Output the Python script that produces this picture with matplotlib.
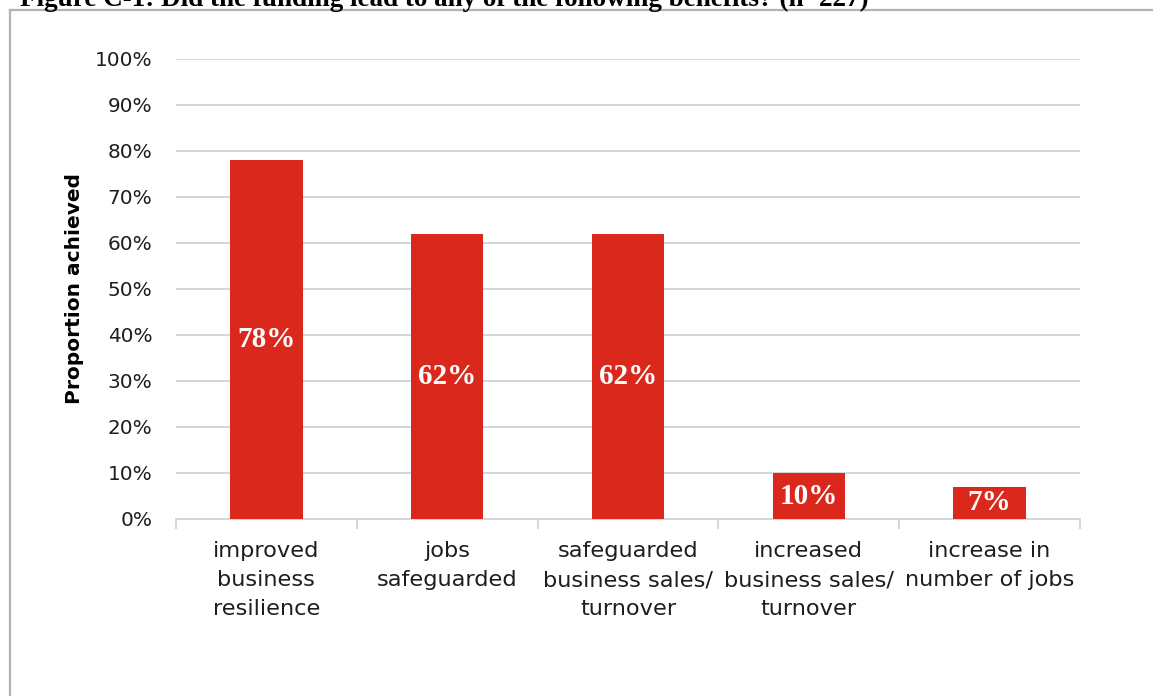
import matplotlib
matplotlib.use('Agg')
import matplotlib.pyplot as plt
from matplotlib.lines import Line2D

# Chart data
categories = ['improved\nbusiness\nresilience', 'jobs\nsafeguarded',
              'safeguarded\nbusiness sales/\nturnover', 'increased\nbusiness sales/\nturnover',
              'increase in\nnumber of jobs']
values = [0.78, 0.62, 0.62, 0.10, 0.07]
value_labels = ['78%', '62%', '62%', '10%', '7%']
yticks = [0, 0.1, 0.2, 0.3, 0.4, 0.5, 0.6, 0.7, 0.8, 0.9, 1.0]
ytick_labels = ['0%', '10%', '20%', '30%', '40%', '50%', '60%', '70%', '80%', '90%', '100%']
title = 'Figure C-1: Did the funding lead to any of the following benefits? (n=227)'

W, H = 1153, 696
fig = plt.figure(figsize=(W / 100, H / 100), dpi=100)
fig.patch.set_facecolor('white')

# cut-off caption at top of the page
fig.text(20 / W, 1 - 6 / H, title, fontsize=19.5, fontweight='bold',
         family='Liberation Serif', va='baseline', ha='left', color='black')

# chart frame (left and top edges visible)
frame_col = '#b3b3b3'
fig.add_artist(Line2D([10 / W, 10 / W], [0, 1 - 10 / H], transform=fig.transFigure,
                      color=frame_col, lw=1.6))
fig.add_artist(Line2D([10 / W, 1], [1 - 10 / H, 1 - 10 / H], transform=fig.transFigure,
                      color=frame_col, lw=1.6))

ax = fig.add_axes([176 / W, 1 - 519 / H, (1080 - 176) / W, (519 - 59) / H])

x = list(range(len(categories)))
bars = ax.bar(x, values, width=0.40, color='#DA291C', zorder=3)

ax.set_xlim(-0.5, len(categories) - 0.5)
ax.set_ylim(0, 1.0)
ax.set_yticks(yticks)
ax.set_yticklabels(ytick_labels, fontsize=14.4, color='#1e1e1e')
ax.grid(axis='y', color='#d0d3d8', lw=1.3, zorder=0)
ax.tick_params(axis='y', length=0, pad=17)

# category ticks at boundaries, labels centered
ax.set_xticks([i - 0.5 for i in range(len(categories) + 1)])
ax.set_xticklabels([])
ax.set_xticks(x, minor=True)
ax.set_xticklabels(categories, minor=True, fontsize=16.2, color='#1e1e1e', linespacing=1.55)
ax.tick_params(axis='x', which='major', length=7, color='#d0d3d8', width=1.3)
ax.tick_params(axis='x', which='minor', length=0, pad=16)

for s in ['top', 'right', 'left']:
    ax.spines[s].set_visible(False)
ax.spines['bottom'].set_color('#d0d3d8')
ax.spines['bottom'].set_linewidth(1.3)

ax.set_ylabel('Proportion achieved', fontsize=14.5, fontweight='bold',
              family='DejaVu Sans', color='black', labelpad=8)

# value labels inside bars
for bar, lab in zip(bars, value_labels):
    ax.text(bar.get_x() + bar.get_width() / 2, bar.get_height() / 2, lab,
            ha='center', va='center', color='white', fontsize=21,
            fontweight='bold', family='Liberation Serif', zorder=4)

fig.savefig('out.png', dpi=100)
